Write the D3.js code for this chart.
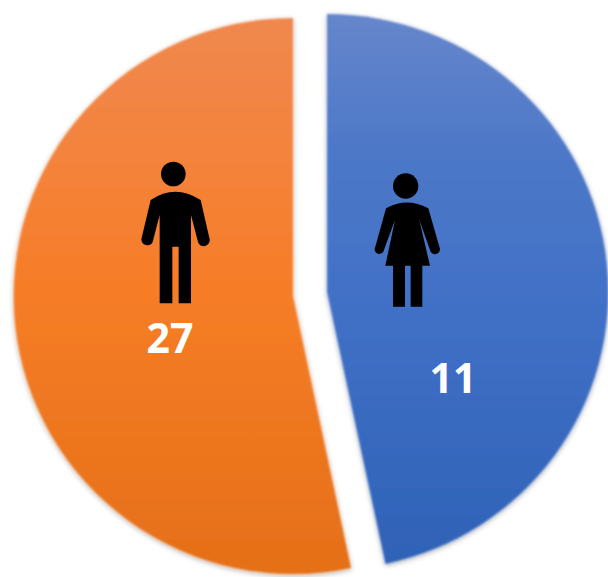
<!DOCTYPE html>
<html><head><meta charset="utf-8">
<script src="https://cdn.jsdelivr.net/npm/d3@7"></script>
<style>html,body{margin:0;padding:0;background:#fff}svg{display:block}</style>
</head><body>
<script>
const categories = ["Women", "Men"];
const seriesLabels = [11, 27];
// Angular shares as drawn in the picture (degrees); the slices are not proportional to the labels.
const drawnShares = [168, 192];
const stops = [
  [["0%", "#6686CC"], ["25%", "#4D78C8"], ["55%", "#4070C6"], ["100%", "#2E62B7"]],
  [["0%", "#F0884F"], ["25%", "#F4833C"], ["50%", "#F67D26"], ["100%", "#E56F18"]]
];
const W = 608, H = 577, R = 278;
const anchors = [{cx: 327, cy: 292, sx: 1.012, lx: 453, ly: 377}, {cx: 293, cy: 296, sx: 1.005, lx: 170, ly: 337}];

const svg = d3.select("body").append("svg").attr("width", W).attr("height", H);
const defs = svg.append("defs");
stops.forEach((s, i) => {
  const g = defs.append("linearGradient").attr("id", "g" + i)
    .attr("gradientUnits", "userSpaceOnUse")
    .attr("x1", 0).attr("x2", 0).attr("y1", -R).attr("y2", R);
  s.forEach(d => g.append("stop").attr("offset", d[0]).attr("stop-color", d[1]));
});
const f = defs.append("filter").attr("id", "soft")
  .attr("x", "-5%").attr("y", "-5%").attr("width", "110%").attr("height", "110%");
f.append("feDropShadow").attr("dx", 0).attr("dy", 1.5).attr("stdDeviation", 2.5)
  .attr("flood-color", "#000").attr("flood-opacity", 0.35).attr("result", "s");
f.append("feGaussianBlur").attr("in", "s").attr("stdDeviation", 0.9);

const pie = d3.pie().sort(null).value(d => d);
const arc = d3.arc().innerRadius(0).outerRadius(R);
const slices = pie(drawnShares);

svg.selectAll("path.slice").data(slices).join("path")
  .attr("class", "slice")
  .attr("transform", (d, i) => `translate(${anchors[i].cx},${anchors[i].cy}) scale(${anchors[i].sx},1)`)
  .attr("d", arc)
  .attr("fill", (d, i) => `url(#g${i})`)
  .attr("filter", "url(#soft)");

// Figures, drawn in the 3x zoom space of their own box
const woman = svg.append("g").attr("transform", "translate(360,165) scale(0.3333)");
woman.append("circle").attr("cx", 137).attr("cy", 63).attr("r", 38);
woman.append("path").attr("d", "M78 130Q140 95 205 130L238 245A14 14 0 0 1 212 260L178 165L210 302L187 302L187 425L152 425L152 302L135 302L135 425L99 425L99 302L76 302L105 165L70 260A14 14 0 0 1 46 245Z");

const man = svg.append("g").attr("transform", "translate(130,150) scale(0.3333)");
man.append("circle").attr("cx", 130).attr("cy", 72).attr("r", 37);
man.append("path").attr("d", "M62 150Q135 100 212 150L239 268A18 18 0 0 1 204 276L183 195L183 460L146 460L146 290L127 290L127 460L89 460L89 195L68 276A18 18 0 0 1 34 268Z");

svg.selectAll("text.val").data(seriesLabels).join("text")
  .attr("class", "val")
  .attr("x", (d, i) => anchors[i].lx).attr("y", (d, i) => anchors[i].ly)
  .attr("text-anchor", "middle").attr("dominant-baseline", "central")
  .attr("font-family", "'Open Sans', sans-serif").attr("font-weight", 700)
  .attr("font-size", 41).attr("fill", "#fff")
  .text(d => d);
</script>
</body></html>
